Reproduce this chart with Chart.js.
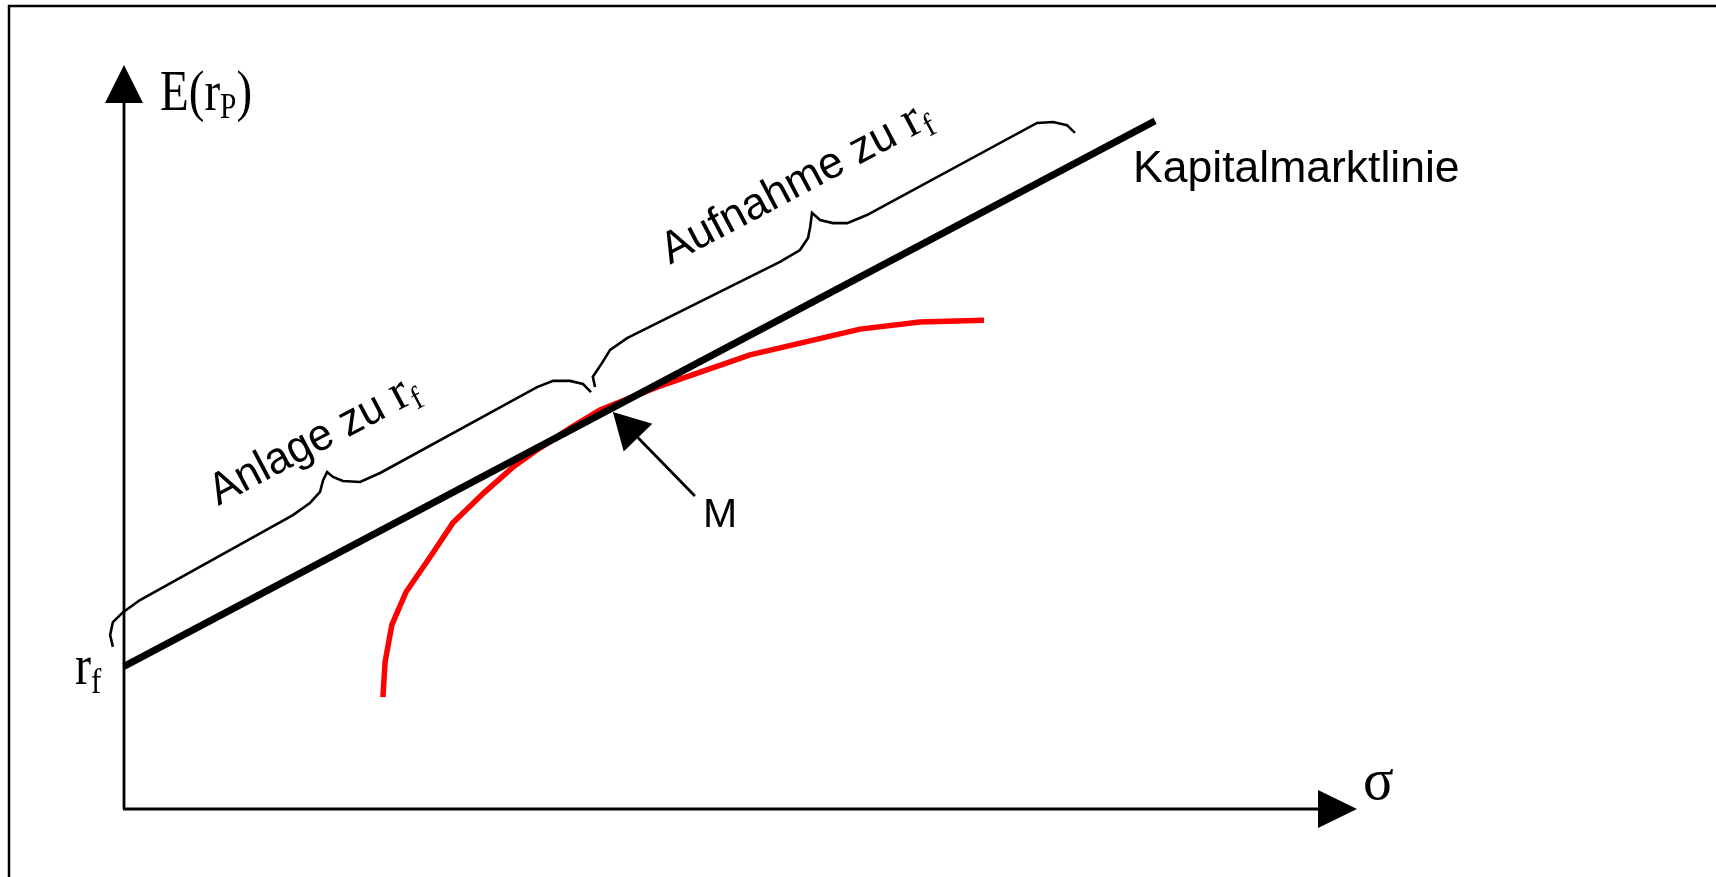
<!DOCTYPE html>
<html>
<head>
<meta charset="utf-8">
<title>Kapitalmarktlinie</title>
<script src="https://cdn.jsdelivr.net/npm/chart.js@4"></script>
<style>
  html, body { margin: 0; padding: 0; background: #fff; overflow: hidden; }
  canvas { display: block; }
</style>
</head>
<body>
<canvas id="chart" width="1716" height="877"></canvas>
<script>
// risk-free rate and the capital market line (sigma -> expected return)
const riskFree = 4.6;
const cmlSigma = [0, 33.45];
const cmlReturn = [4.6, 22.2];

// efficient frontier (red curve)
const frontierSigma = [8.40, 8.47, 8.69, 9.15, 9.93, 10.67, 11.71, 12.62, 13.50, 14.47, 15.44, 17.29, 20.31, 23.88, 25.82, 27.90];
const frontierReturn = [3.61, 4.74, 5.94, 7.00, 8.13, 9.23, 10.23, 11.03, 11.65, 12.29, 12.87, 13.61, 14.65, 15.48, 15.71, 15.77];

// market portfolio M: arrow tip and arrow tail
const marketSigma = [15.86, 18.52];
const marketReturn = [12.81, 10.10];

// curly brace "Anlage zu rf"
const anlageSigma = [-0.36, -0.45, -0.36, -0.03, 0.52, 5.48, 6.03, 6.36, 6.46, 6.59, 6.78, 7.10, 7.66, 8.31, 13.40, 13.92, 14.47, 14.89, 15.15];
const anlageReturn = [5.23, 5.61, 6.03, 6.35, 6.74, 9.48, 9.87, 10.23, 10.61, 10.87, 10.71, 10.58, 10.55, 10.84, 13.61, 13.81, 13.81, 13.71, 13.45];

// curly brace "Aufnahme zu rf"
const aufnahmeSigma = [15.28, 15.21, 15.51, 15.77, 16.32, 21.28, 21.93, 22.19, 22.26, 22.32, 22.58, 23.00, 23.46, 24.10, 29.62, 30.14, 30.59, 30.85];
const aufnahmeReturn = [13.61, 13.94, 14.39, 14.81, 15.19, 17.65, 18.03, 18.42, 18.77, 19.23, 19.00, 18.90, 18.90, 19.16, 22.13, 22.16, 22.06, 21.81];

// axis ranges
const sigmaMax = 40;
const returnMax = 24;

const toPoints = (xs, ys) => xs.map((v, i) => ({ x: v, y: ys[i] }));

const SANS = '"Liberation Sans", Arial, sans-serif';
const SERIF = '"Liberation Serif", "Times New Roman", serif';

// draws a run of text pieces (for subscripts), optionally rotated / squeezed
function drawRich(ctx, parts, x, y, angle, squeeze) {
    ctx.save();
    ctx.translate(x, y);
    ctx.rotate(angle || 0);
    ctx.scale(squeeze || 1, 1);
    let cx = 0;
    parts.forEach(p => {
        ctx.font = p.font;
        ctx.fillText(p.text, cx, p.dy || 0);
        cx += ctx.measureText(p.text).width;
    });
    ctx.restore();
}

function triangle(ctx, pts) {
    ctx.beginPath();
    ctx.moveTo(pts[0][0], pts[0][1]);
    ctx.lineTo(pts[1][0], pts[1][1]);
    ctx.lineTo(pts[2][0], pts[2][1]);
    ctx.closePath();
    ctx.fill();
}

const decorations = {
    id: 'decorations',
    beforeDraw(chart) {
        const ctx = chart.ctx;
        ctx.save();
        ctx.fillStyle = '#fff';
        ctx.fillRect(0, 0, chart.width, chart.height);
        // page frame (only left and top edges are visible)
        ctx.strokeStyle = '#000';
        ctx.lineWidth = 2.5;
        ctx.beginPath();
        ctx.moveTo(9, chart.height + 5);
        ctx.lineTo(9, 6);
        ctx.lineTo(chart.width + 5, 6);
        ctx.stroke();
        ctx.restore();
    },
    afterDatasetsDraw(chart) {
        const { ctx, chartArea: a, scales: { x, y } } = chart;
        const x0 = x.getPixelForValue(0);
        const y0 = y.getPixelForValue(0);
        ctx.save();
        ctx.strokeStyle = '#000';
        ctx.fillStyle = '#000';
        ctx.lineCap = 'butt';

        // axes with arrow heads
        ctx.lineWidth = 2.8;
        ctx.beginPath();
        ctx.moveTo(x0, y0);
        ctx.lineTo(x0, a.top + 38);
        ctx.moveTo(x0 - 1, y0);
        ctx.lineTo(a.right - 39, y0);
        ctx.stroke();
        triangle(ctx, [[x0, a.top], [x0 - 19, a.top + 38], [x0 + 19, a.top + 38]]);
        triangle(ctx, [[a.right, y0], [a.right - 39, y0 - 19], [a.right - 39, y0 + 19]]);

        // arrow pointing at M
        const tipX = x.getPixelForValue(marketSigma[0]), tipY = y.getPixelForValue(marketReturn[0]);
        const tailX = x.getPixelForValue(marketSigma[1]), tailY = y.getPixelForValue(marketReturn[1]);
        const len = Math.hypot(tipX - tailX, tipY - tailY);
        const ux = (tipX - tailX) / len, uy = (tipY - tailY) / len;
        const bx = tipX - ux * 36, by = tipY - uy * 36;
        ctx.lineWidth = 2.8;
        ctx.beginPath();
        ctx.moveTo(tailX, tailY);
        ctx.lineTo(bx, by);
        ctx.stroke();
        triangle(ctx, [[tipX, tipY], [bx - uy * 20, by + ux * 20], [bx + uy * 20, by - ux * 20]]);

        // texts
        ctx.textBaseline = 'alphabetic';
        drawRich(ctx, [
            { text: 'E(r', font: '56px ' + SERIF },
            { text: 'P', font: '35px ' + SERIF, dy: 8 },
            { text: ')', font: '56px ' + SERIF }
        ], x0 + 36, a.top + 45, 0, 0.84);

        drawRich(ctx, [{ text: 'σ', font: '60px ' + SERIF }], a.right + 6, y0 - 10, 0, 0.95);

        drawRich(ctx, [
            { text: 'r', font: '56px ' + SERIF },
            { text: 'f', font: '36px ' + SERIF, dy: 9 }
        ], x0 - 49, y.getPixelForValue(riskFree) + 18, 0, 0.86);

        const cx0 = x.getPixelForValue(cmlSigma[0]), cy0 = y.getPixelForValue(cmlReturn[0]);
        const cx1 = x.getPixelForValue(cmlSigma[1]), cy1 = y.getPixelForValue(cmlReturn[1]);
        const angle = Math.atan2(cy1 - cy0, cx1 - cx0);

        drawRich(ctx, [{ text: 'Kapitalmarktlinie', font: '44.5px ' + SANS }], cx1 - 22, cy1 + 61, 0, 1);

        drawRich(ctx, [{ text: 'M', font: '41px ' + SANS }], tailX + 8, tailY + 31, 0, 1);

        const anlageCusp = [x.getPixelForValue(anlageSigma[9]), y.getPixelForValue(anlageReturn[9])];
        drawRich(ctx, [
            { text: 'Anlage zu ', font: '45px ' + SANS },
            { text: 'r', font: '52px ' + SERIF },
            { text: 'f', font: '32px ' + SERIF, dy: 8 }
        ], anlageCusp[0] - 109, anlageCusp[1] + 34, angle, 0.96);

        const aufCusp = [x.getPixelForValue(aufnahmeSigma[9]), y.getPixelForValue(aufnahmeReturn[9])];
        drawRich(ctx, [
            { text: 'Aufnahme zu ', font: '45px ' + SANS },
            { text: 'r', font: '52px ' + SERIF },
            { text: 'f', font: '32px ' + SERIF, dy: 8 }
        ], aufCusp[0] - 142, aufCusp[1] + 52, angle, 0.98);

        ctx.restore();
    }
};

const lineStyle = { showLine: true, pointRadius: 0, tension: 0, fill: false, clip: false };

new Chart(document.getElementById('chart'), {
    type: 'scatter',
    data: {
        datasets: [
            { ...lineStyle, label: 'Kapitalmarktlinie', data: toPoints(cmlSigma, cmlReturn), borderColor: '#000', borderWidth: 7 },
            { ...lineStyle, label: 'Effizienzkurve', data: toPoints(frontierSigma, frontierReturn), borderColor: '#ff0000', borderWidth: 5.5 },
            { ...lineStyle, label: 'Anlage zu rf', data: toPoints(anlageSigma, anlageReturn), borderColor: '#000', borderWidth: 2.6 },
            { ...lineStyle, label: 'Aufnahme zu rf', data: toPoints(aufnahmeSigma, aufnahmeReturn), borderColor: '#000', borderWidth: 2.6 }
        ]
    },
    options: {
        responsive: false,
        animation: false,
        events: [],
        layout: { padding: { left: 124, right: 359, top: 65, bottom: 68 } },
        scales: {
            x: { type: 'linear', min: 0, max: sigmaMax, display: false },
            y: { type: 'linear', min: 0, max: returnMax, display: false }
        },
        plugins: {
            legend: { display: false },
            tooltip: { enabled: false }
        }
    },
    plugins: [decorations]
});
</script>
</body>
</html>
